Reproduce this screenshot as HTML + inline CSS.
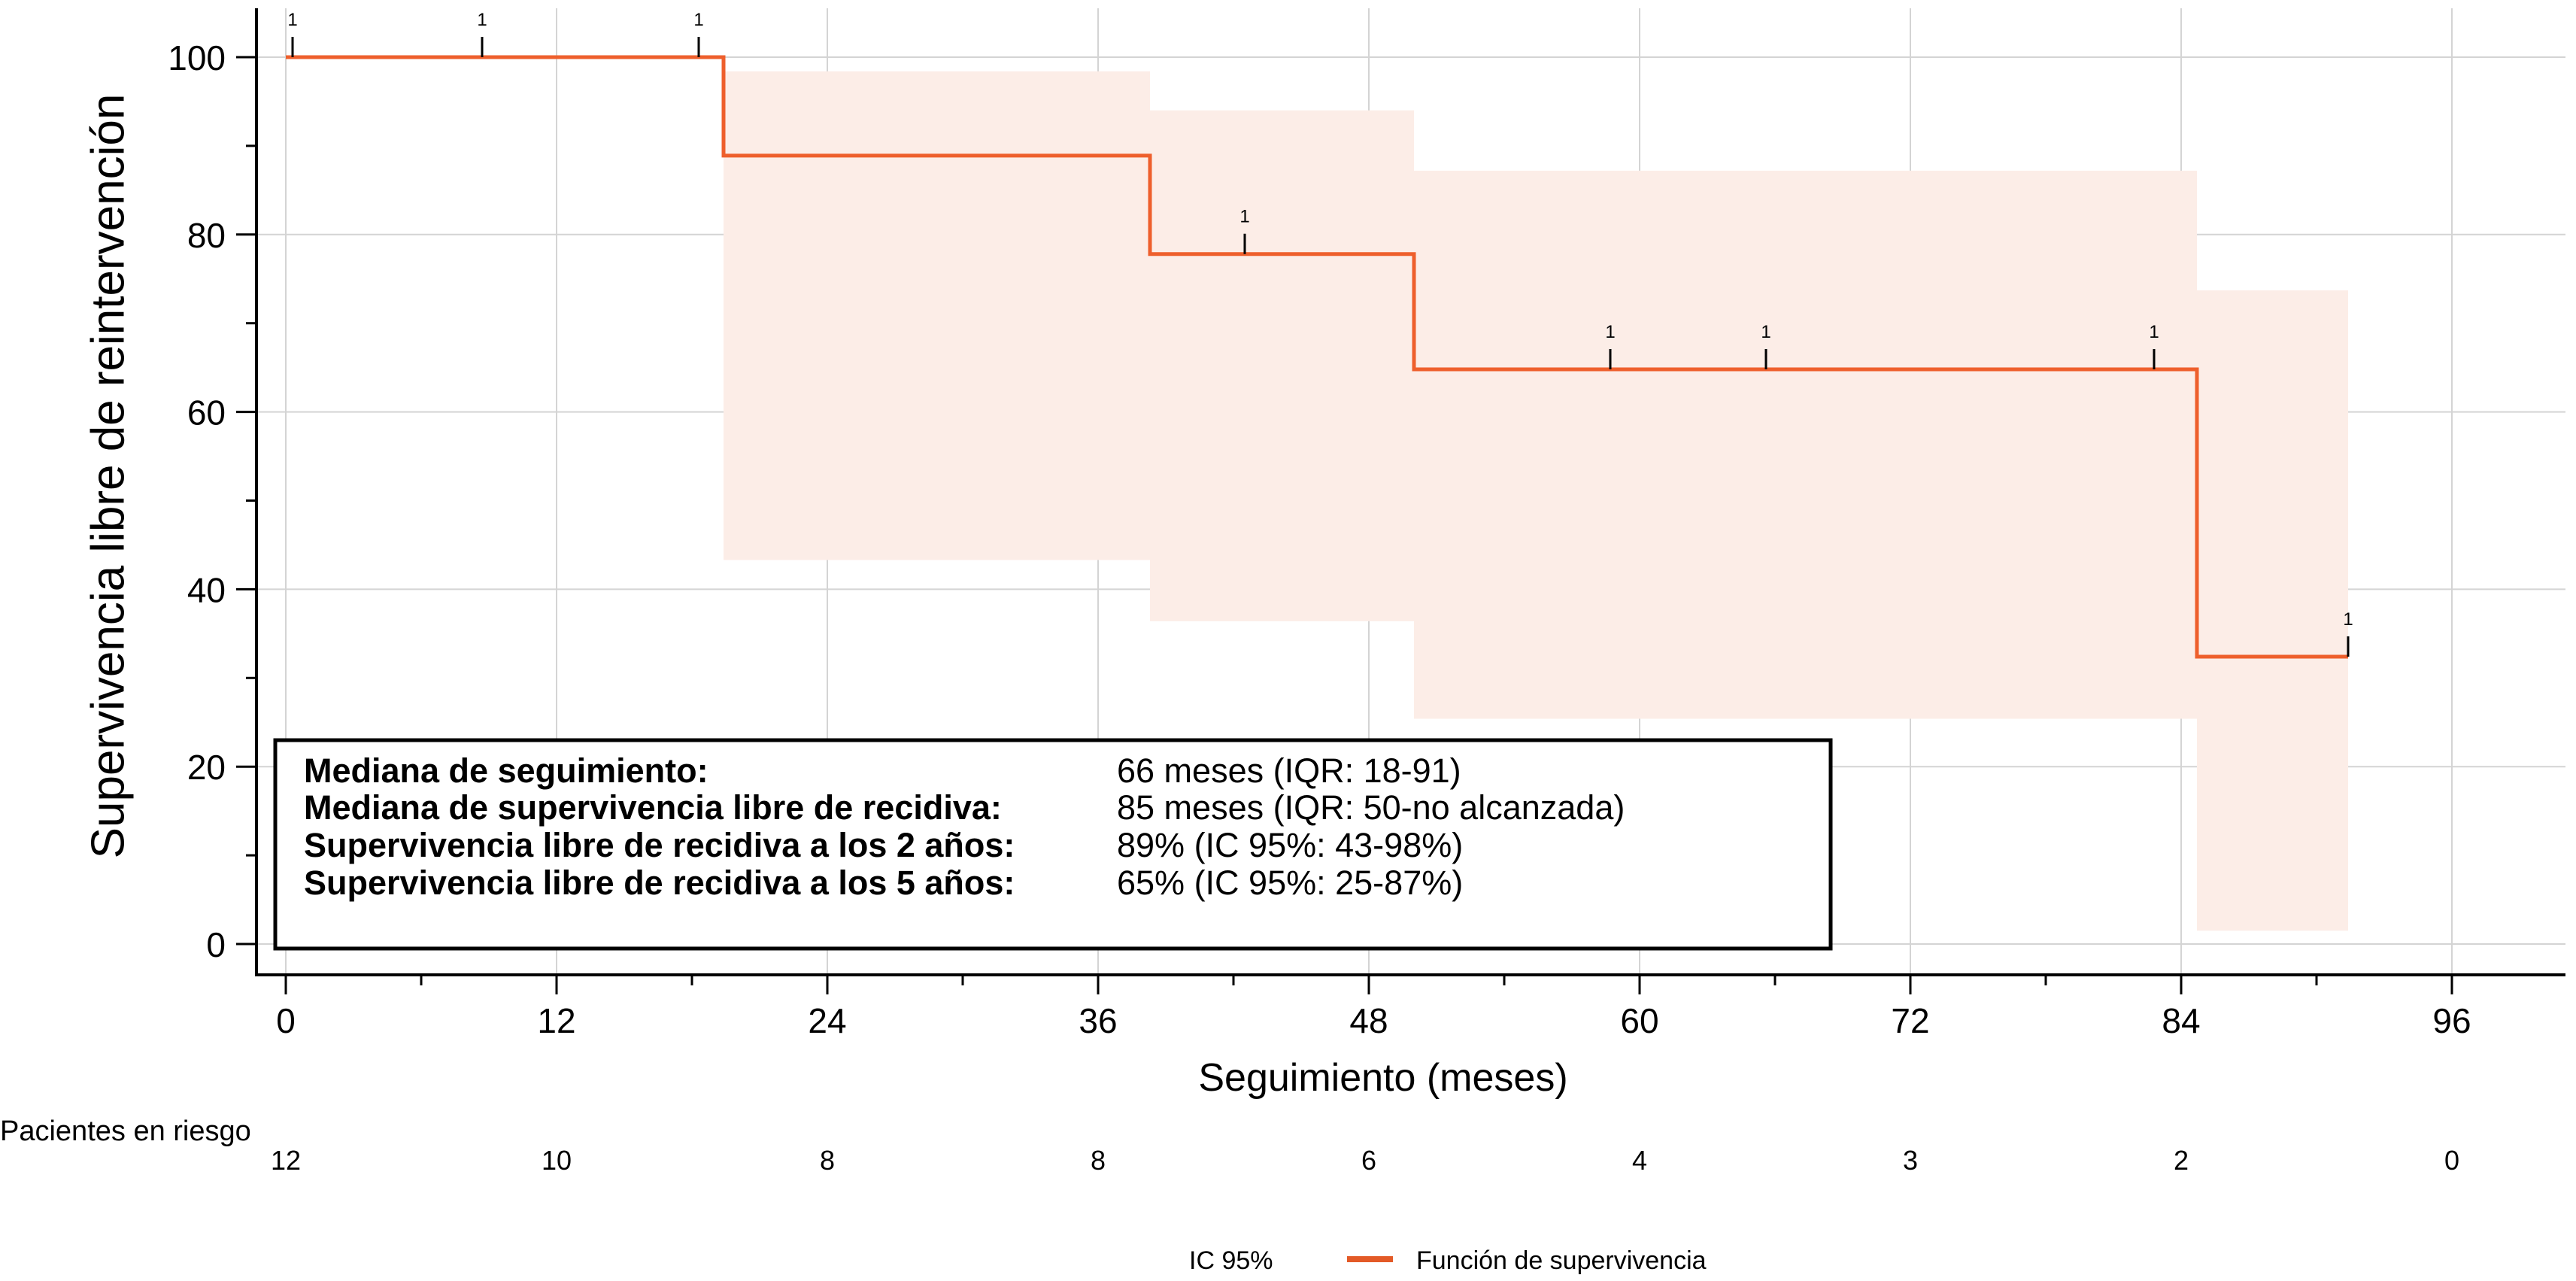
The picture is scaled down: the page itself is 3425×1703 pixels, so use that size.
<!DOCTYPE html>
<html><head><meta charset="utf-8"><style>
html,body{margin:0;padding:0;background:#fff;}
svg{display:block;font-family:"Liberation Sans",Arial,sans-serif;}
</style></head><body>
<svg id="chart" width="3425" height="1703" viewBox="0 0 3425 1703" xmlns="http://www.w3.org/2000/svg">
<g id="grid"></g>
<g id="ci"></g>
<g id="curve"></g>
<g id="axes"></g>
<g id="risk"></g>
<text x="148" y="633" transform="rotate(-90 148 633)" text-anchor="middle" dominant-baseline="middle" font-size="62">Supervivencia libre de reintervención</text>
<text x="1839" y="1450" text-anchor="middle" font-size="52">Seguimiento (meses)</text>
<text x="0" y="1516" font-size="38">Pacientes en riesgo</text>
<g>
<rect x="366" y="984" width="2068" height="277" fill="#fff" stroke="#000" stroke-width="5"/>
<g font-size="45" font-weight="bold">
<text x="404" y="1040">Mediana de seguimiento:</text>
<text x="404" y="1089">Mediana de supervivencia libre de recidiva:</text>
<text x="404" y="1139">Supervivencia libre de recidiva a los 2 años:</text>
<text x="404" y="1189">Supervivencia libre de recidiva a los 5 años:</text>
</g>
<g font-size="45">
<text x="1485" y="1040">66 meses (IQR: 18-91)</text>
<text x="1485" y="1089">85 meses (IQR: 50-no alcanzada)</text>
<text x="1485" y="1139">89% (IC 95%: 43-98%)</text>
<text x="1485" y="1189">65% (IC 95%: 25-87%)</text>
</g>
</g>
<g>
<text x="1581" y="1687" font-size="34">IC 95%</text>
<line x1="1791" y1="1674" x2="1852" y2="1674" stroke="#E35A27" stroke-width="8"/>
<text x="1883" y="1687" font-size="34">Función de supervivencia</text>
</g>
</svg>
<script>
const xTicks=[0,12,24,36,48,60,72,84,96];
const yTicks=[0,20,40,60,80,100];
const riskCounts=[12,10,8,8,6,4,3,2,0];
const stepTimes=[0,19.4,38.3,50,84.7];
const stepSurv=[100,88.9,77.8,64.8,32.4];
const endTime=91.4;
const ciLower=[100,43.3,36.4,25.4,1.5];
const ciUpper=[100,98.4,94,87.2,73.7];
const censorTimes=[0.3,8.7,18.3,42.5,58.7,65.6,82.8,91.4];
const censorCounts=[1,1,1,1,1,1,1,1];

const NS='http://www.w3.org/2000/svg';
const X=t=>380+t*30;
const Y=v=>1255-v*11.79;
function mk(tag,attrs,parent){const e=document.createElementNS(NS,tag);for(const k in attrs)e.setAttribute(k,attrs[k]);parent.appendChild(e);return e;}
const grid=document.getElementById('grid'),axes=document.getElementById('axes'),ci=document.getElementById('ci'),curve=document.getElementById('curve'),risk=document.getElementById('risk');
xTicks.forEach(t=>{const l=mk('line',{x1:X(t),x2:X(t),y1:11,y2:1295,stroke:'#d4d4d4','stroke-width':2},grid);

});
yTicks.forEach(v=>{const l=mk('line',{x1:341,x2:3411,y1:Y(v),y2:Y(v),stroke:'#d4d4d4','stroke-width':2},grid);

});
for(let i=1;i<stepTimes.length;i++){const t1=i+1<stepTimes.length?stepTimes[i+1]:endTime;
const r=mk('rect',{x:X(stepTimes[i]),y:Y(ciUpper[i]),width:X(t1)-X(stepTimes[i]),height:Y(ciLower[i])-Y(ciUpper[i]),fill:'#FCEDE7'},ci);

}
let d='M'+X(stepTimes[0])+' '+Y(stepSurv[0]);
for(let i=1;i<stepTimes.length;i++){d+=' H'+X(stepTimes[i])+' V'+Y(stepSurv[i]);}
d+=' H'+X(endTime);
const p=mk('path',{d:d,fill:'none',stroke:'#EE5F2C','stroke-width':5,'stroke-linejoin':'miter'},curve);


function survAt(t){let s=stepSurv[0];for(let i=0;i<stepTimes.length;i++)if(stepTimes[i]<=t)s=stepSurv[i];return s;}
censorTimes.forEach((t,i)=>{const y=Y(survAt(t));
const l=mk('line',{x1:X(t),x2:X(t),y1:y-27,y2:y,stroke:'#000','stroke-width':3},curve);


const tx=mk('text',{x:X(t),y:y-42,'font-size':24,'text-anchor':'middle'},curve);tx.textContent=censorCounts[i];

});
const ya=mk('line',{x1:341,x2:341,y1:11,y2:1297,stroke:'#000','stroke-width':4},axes);


const xa=mk('line',{x1:339,x2:3411,y1:1296,y2:1296,stroke:'#000','stroke-width':4},axes);


yTicks.forEach(v=>{const l=mk('line',{x1:314,x2:341,y1:Y(v),y2:Y(v),stroke:'#000','stroke-width':3},axes);


const m=mk('line',{x1:327,x2:341,y1:Y(v+10),y2:Y(v+10),stroke:'#000','stroke-width':3},axes);


const t=mk('text',{x:300,y:Y(v)+17,'font-size':46,'text-anchor':'end'},axes);t.textContent=v;

});
xTicks.forEach((v,i)=>{const l=mk('line',{x1:X(v),x2:X(v),y1:1296,y2:1322,stroke:'#000','stroke-width':3},axes);


if(v+6<=100){const m=mk('line',{x1:X(v+6),x2:X(v+6),y1:1296,y2:1310,stroke:'#000','stroke-width':3},axes);

}
const t=mk('text',{x:X(v),y:1373,'font-size':46,'text-anchor':'middle'},axes);t.textContent=v;


const r=mk('text',{x:X(v),y:1555,'font-size':36,'text-anchor':'middle'},risk);r.textContent=riskCounts[i];

});
</script>
</body></html>
